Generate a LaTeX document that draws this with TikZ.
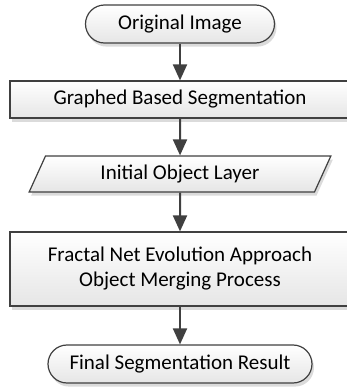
\documentclass[tikz,border=0pt]{standalone}
\usepackage{fontspec}
\setmainfont{Carlito}
\usetikzlibrary{arrows.meta,shapes.geometric,shadows}
\definecolor{edgegray}{HTML}{404040}
\tikzset{%
  >={Triangle[width=7pt,length=8pt]},
  box/.style={draw=edgegray,line width=0.6pt,top color=white,bottom color=black!10,
    drop shadow={fill=black!14,opacity=1,shadow xshift=1pt,shadow yshift=-1.8pt},
    align=center,inner sep=0pt,font=\fontsize{10.5}{12.5}\selectfont},
  terminal/.style={box,rectangle,rounded corners=9.5pt,minimum height=19pt},
  process/.style={box,rectangle,minimum width=170pt},
  iodata/.style={box,trapezium,trapezium left angle=62,trapezium right angle=118,
    trapezium stretches=true,minimum width=151pt,minimum height=18pt},
  flow/.style={->,draw=edgegray,fill=edgegray,line width=1pt}
}
\begin{document}
\begin{tikzpicture}[x=1pt,y=1pt]
\useasboundingbox (0,0) rectangle (173.5,193.5);

\node[terminal,minimum width=94.5pt] (orig) at (90,181.5) {Original Image};
\node[process,minimum height=18.5pt] (gbs) at (90,143.75) {Graphed Based Segmentation};
\node[iodata] (layer) at (90,106.5) {Initial Object Layer};
\node[process,minimum height=37pt] (fnea) at (90,59) {Fractal Net Evolution Approach\\Object Merging Process};
\node[terminal,minimum width=132pt] (result) at (90,11.5) {Final Segmentation Result};

% arrows between the steps
\draw[flow] (orig) -- (gbs);
\draw[flow] (gbs) -- (layer);
\draw[flow] (layer) -- (fnea);
\draw[flow] (fnea) -- (result);
\end{tikzpicture}
\end{document}
